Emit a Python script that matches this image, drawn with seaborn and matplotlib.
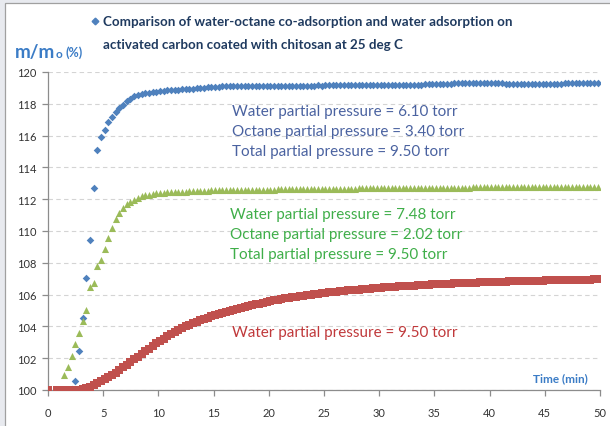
import matplotlib
matplotlib.use("Agg")
import matplotlib.pyplot as plt
import seaborn as sns
import pandas as pd
from matplotlib.patches import Rectangle
from matplotlib.lines import Line2D

# ---------------- data ----------------
time_min = [0,
    0.8, 1.13, 1.47, 1.8, 2.13, 2.47, 2.8, 3.13, 3.47, 3.8, 4.13, 4.47,
    4.8, 5.13, 5.47, 5.8, 6.13, 6.47, 6.8, 7.13, 7.47, 7.8, 8.13, 8.47,
    8.8, 9.13, 9.47, 9.8, 10.13, 10.47, 10.8, 11.13, 11.47, 11.8, 12.13, 12.47,
    12.8, 13.13, 13.47, 13.8, 14.13, 14.47, 14.8, 15.13, 15.47, 15.8, 16.13, 16.47,
    16.8, 17.13, 17.47, 17.8, 18.13, 18.47, 18.8, 19.13, 19.47, 19.8, 20.13, 20.47,
    20.8, 21.13, 21.47, 21.8, 22.13, 22.47, 22.8, 23.13, 23.47, 23.8, 24.13, 24.47,
    24.8, 25.13, 25.47, 25.8, 26.13, 26.47, 26.8, 27.13, 27.47, 27.8, 28.13, 28.47,
    28.8, 29.13, 29.47, 29.8, 30.13, 30.47, 30.8, 31.13, 31.47, 31.8, 32.13, 32.47,
    32.8, 33.13, 33.47, 33.8, 34.13, 34.47, 34.8, 35.13, 35.47, 35.8, 36.13, 36.47,
    36.8, 37.13, 37.47, 37.8, 38.13, 38.47, 38.8, 39.13, 39.47, 39.8, 40.13, 40.47,
    40.8, 41.13, 41.47, 41.8, 42.13, 42.47, 42.8, 43.13, 43.47, 43.8, 44.13, 44.47,
    44.8, 45.13, 45.47, 45.8, 46.13, 46.47, 46.8, 47.13, 47.47, 47.8, 48.13, 48.47,
    48.8, 49.13, 49.47, 49.8]

# water 6.10 torr + octane 3.40 torr (blue)
coads_610 = [100,
    100, 100, 100, 100, 100.05, 100.58, 102.43, 104.53, 107.04, 109.43, 112.7, 115.09,
    115.93, 116.37, 116.84, 117.19, 117.5, 117.72, 117.94, 118.16, 118.3, 118.47, 118.55, 118.6,
    118.66, 118.7, 118.74, 118.77, 118.8, 118.82, 118.84, 118.85, 118.87, 118.89, 118.9, 118.92,
    118.94, 118.96, 118.98, 119.0, 119.02, 119.04, 119.05, 119.07, 119.08, 119.09, 119.1, 119.1,
    119.11, 119.1, 119.11, 119.11, 119.12, 119.11, 119.12, 119.12, 119.13, 119.12, 119.13, 119.13,
    119.13, 119.14, 119.13, 119.14, 119.14, 119.15, 119.14, 119.15, 119.15, 119.15, 119.15, 119.16,
    119.15, 119.16, 119.16, 119.16, 119.16, 119.17, 119.16, 119.17, 119.17, 119.17, 119.17, 119.18,
    119.17, 119.18, 119.18, 119.18, 119.18, 119.19, 119.18, 119.19, 119.19, 119.19, 119.2, 119.2,
    119.2, 119.21, 119.21, 119.21, 119.22, 119.22, 119.22, 119.23, 119.24, 119.25, 119.26, 119.27,
    119.28, 119.29, 119.3, 119.3, 119.31, 119.31, 119.32, 119.32, 119.32, 119.32, 119.31, 119.3,
    119.29, 119.28, 119.27, 119.26, 119.26, 119.25, 119.25, 119.25, 119.25, 119.25, 119.26, 119.26,
    119.26, 119.26, 119.27, 119.27, 119.27, 119.27, 119.28, 119.28, 119.28, 119.28, 119.28, 119.29,
    119.29, 119.29, 119.29, 119.29]

# water 7.48 torr + octane 2.02 torr (green)
coads_748 = [100,
    100, 100.05, 100.94, 101.43, 102.16, 102.9, 103.6, 104.33, 105.05, 106.46, 106.7, 107.82,
    108.2, 108.87, 109.56, 110.17, 110.75, 111.13, 111.42, 111.7, 111.84, 111.97, 112.1, 112.18,
    112.24, 112.29, 112.33, 112.36, 112.39, 112.41, 112.43, 112.44, 112.45, 112.46, 112.47, 112.48,
    112.49, 112.5, 112.51, 112.52, 112.53, 112.54, 112.55, 112.55, 112.56, 112.56, 112.57, 112.57,
    112.58, 112.58, 112.58, 112.59, 112.59, 112.59, 112.6, 112.6, 112.6, 112.61, 112.61, 112.61,
    112.62, 112.62, 112.62, 112.63, 112.63, 112.63, 112.64, 112.64, 112.64, 112.65, 112.65, 112.65,
    112.65, 112.66, 112.66, 112.66, 112.66, 112.67, 112.67, 112.67, 112.67, 112.67, 112.68, 112.68,
    112.68, 112.68, 112.68, 112.69, 112.69, 112.69, 112.69, 112.69, 112.7, 112.7, 112.7, 112.7,
    112.7, 112.71, 112.71, 112.71, 112.71, 112.71, 112.72, 112.72, 112.72, 112.72, 112.72, 112.73,
    112.73, 112.73, 112.73, 112.73, 112.73, 112.74, 112.74, 112.74, 112.74, 112.74, 112.74, 112.74,
    112.75, 112.75, 112.75, 112.75, 112.75, 112.75, 112.75, 112.75, 112.75, 112.75, 112.75, 112.75,
    112.75, 112.75, 112.75, 112.75, 112.76, 112.76, 112.76, 112.76, 112.76, 112.76, 112.76, 112.76,
    112.76, 112.76, 112.76, 112.76]

# water only 9.50 torr (red)
water_950 = [100,
    100, 100, 100, 100, 100, 100, 100.03, 100.07, 100.12, 100.2, 100.3, 100.42,
    100.55, 100.68, 100.8, 100.95, 101.1, 101.27, 101.43, 101.6, 101.77, 101.94, 102.1, 102.27,
    102.44, 102.6, 102.77, 102.93, 103.08, 103.23, 103.38, 103.51, 103.64, 103.76, 103.88, 104.0,
    104.11, 104.21, 104.3, 104.39, 104.47, 104.55, 104.63, 104.7, 104.77, 104.84, 104.91, 104.98,
    105.04, 105.1, 105.16, 105.22, 105.28, 105.34, 105.39, 105.44, 105.49, 105.54, 105.59, 105.63,
    105.68, 105.72, 105.76, 105.8, 105.84, 105.87, 105.91, 105.94, 105.97, 106.0, 106.03, 106.06,
    106.09, 106.12, 106.14, 106.17, 106.19, 106.22, 106.24, 106.26, 106.28, 106.3, 106.32, 106.34,
    106.36, 106.38, 106.4, 106.42, 106.44, 106.45, 106.47, 106.49, 106.5, 106.52, 106.53, 106.55,
    106.56, 106.57, 106.59, 106.6, 106.61, 106.62, 106.64, 106.65, 106.66, 106.67, 106.68, 106.69,
    106.7, 106.71, 106.72, 106.73, 106.74, 106.75, 106.76, 106.77, 106.77, 106.78, 106.79, 106.8,
    106.8, 106.81, 106.82, 106.83, 106.83, 106.84, 106.85, 106.85, 106.86, 106.87, 106.87, 106.88,
    106.88, 106.89, 106.89, 106.9, 106.9, 106.91, 106.91, 106.92, 106.92, 106.93, 106.93, 106.93,
    106.94, 106.94, 106.95, 106.95]

x_ticks = [0, 5, 10, 15, 20, 25, 30, 35, 40, 45, 50]
y_ticks = [100, 102, 104, 106, 108, 110, 112, 114, 116, 118, 120]

title_lines = ["Comparison of water-octane co-adsorption and water adsorption on",
               "activated carbon coated with chitosan at 25 deg C"]
blue_notes = ["Water partial pressure = 6.10 torr",
              "Octane partial pressure = 3.40 torr",
              "Total partial pressure = 9.50 torr"]
green_notes = ["Water partial pressure = 7.48 torr",
               "Octane partial pressure = 2.02 torr",
               "Total partial pressure = 9.50 torr"]
red_notes = ["Water partial pressure = 9.50 torr"]

assert len(time_min) == len(coads_610) == len(coads_748) == len(water_950)

# ---------------- style ----------------
sns.set_theme(style="white")
plt.rcParams['font.family'] = ['Lato', 'DejaVu Sans']

C_BLUE = '#4F81BD'
C_GREEN = '#9BBB59'
C_RED = '#C0504D'
C_AXBLUE = '#3b7cc6'

W, H = 610, 427
fig = plt.figure(figsize=(W / 100, H / 100), dpi=100)
fig.patch.set_facecolor('#e8eaef')
fig.add_artist(Rectangle((5 / W, -0.01), 1.0, 1 - 4 / H + 0.01, transform=fig.transFigure,
                         facecolor='white', edgecolor='#a0a0a0', lw=0.9, zorder=-5))

ax = fig.add_axes([48 / W, (H - 391) / H, 552 / W, 318 / H])
ax.set_facecolor('none')

df = pd.DataFrame({'time': time_min * 3,
                   'value': coads_610 + coads_748 + water_950,
                   'series': ['b'] * len(time_min) + ['g'] * len(time_min) + ['r'] * len(time_min)})

specs = [('b', 'D', C_BLUE, 15), ('g', '^', C_GREEN, 26), ('r', 's', C_RED, 30)]
for i, (key, mk, col, sz) in enumerate(specs):
    sub = df[df['series'] == key]
    sns.scatterplot(data=sub, x='time', y='value', marker=mk, color=col, s=sz,
                    linewidth=0, ax=ax, zorder=3 + i, legend=False)

ax.set_xlim(0, 50)
ax.set_ylim(100, 120)
ax.set_xticks(x_ticks)
ax.set_yticks(y_ticks)
ax.set_xticklabels([str(v) for v in x_ticks])
ax.set_yticklabels([str(v) for v in y_ticks])
ax.set_xlabel('')
ax.set_ylabel('')
ax.yaxis.grid(True, linestyle=(0, (4, 3)), color='#d4d4d4', lw=0.8)
ax.xaxis.grid(False)
for s in ['top', 'right']:
    ax.spines[s].set_visible(False)
for s in ['left', 'bottom']:
    ax.spines[s].set_color('#8c8c8c')
    ax.spines[s].set_linewidth(0.9)
ax.tick_params(axis='both', direction='out', length=4, width=0.9, color='#8c8c8c',
               labelsize=8, labelcolor='#333333')
ax.tick_params(axis='x', pad=8, bottom=True)
ax.tick_params(axis='y', pad=4, left=True)

def ft(x, y, s, **kw):
    return fig.text(x / W, 1 - y / H, s, **kw)

# title with legend marker
fig.add_artist(Line2D([95 / W], [1 - 22 / H], marker='D', ms=3.4, color=C_BLUE, lw=0,
                      transform=fig.transFigure))
ft(103, 22, title_lines[0], fontsize=9.6, fontweight='bold', color='#1f3a5f', va='center', ha='left')
ft(103, 45, title_lines[1], fontsize=9.6, fontweight='bold', color='#1f3a5f', va='center', ha='left')

# y label
t1 = ft(15, 58, "m/m", fontsize=13.5, fontweight='bold', color=C_AXBLUE, va='baseline', ha='left')
t2 = ax.annotate("o", xy=(1, 0), xycoords=t1, xytext=(0.3, 0.8), textcoords='offset points',
                 fontsize=8.5, fontweight='bold', color=C_AXBLUE, va='bottom', ha='left',
                 annotation_clip=False)
ax.annotate("(%)", xy=(1, 0), xycoords=t2, xytext=(2.5, 0.5), textcoords='offset points',
            fontsize=9, fontweight='bold', color=C_AXBLUE, va='bottom', ha='left',
            annotation_clip=False)

# x label
ft(588, 379, "Time (min)", fontsize=8.5, fontweight='bold', color=C_AXBLUE, va='center', ha='right')

# annotations
for i, s in enumerate(blue_notes):
    ft(232, 112 + 20 * i, s, fontsize=11, color='#4a62a0', va='center', ha='left')
for i, s in enumerate(green_notes):
    ft(230, 215 + 20 * i, s, fontsize=11, color='#3fae49', va='center', ha='left')
for s in red_notes:
    ft(232, 333, s, fontsize=11, color='#c0393b', va='center', ha='left')

fig.savefig('out.png', dpi=100, facecolor=fig.get_facecolor())
